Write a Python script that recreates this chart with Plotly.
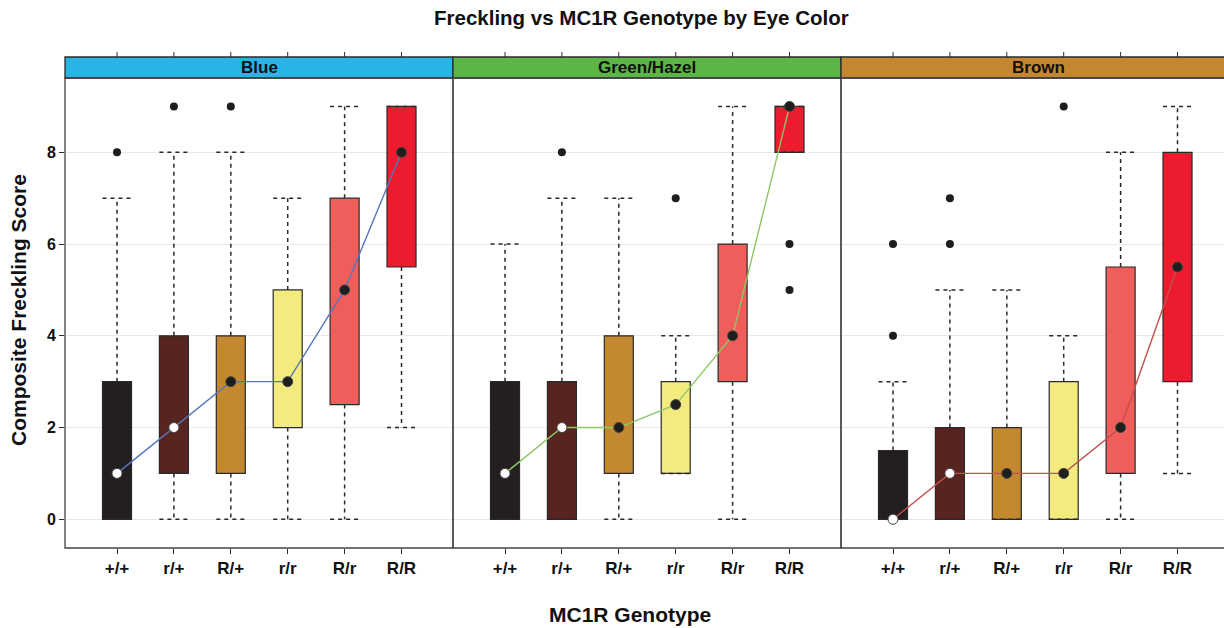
import plotly.graph_objects as go

# ---------------- data ----------------
genotypes = ["+/+", "r/+", "R/+", "r/r", "R/r", "R/R"]
eye_colors = ["Blue", "Green/Hazel", "Brown"]

strip_colors = ["#29b4e6", "#5cb646", "#c4872f"]
line_colors = ["#5677bd", "#8dc863", "#c2514d"]
box_colors = ["#231f20", "#57241f", "#c4892f", "#f4eb7f", "#f05e5c", "#ec1c2e"]
median_dot_colors = ["#ffffff", "#ffffff", "#1e1e1e", "#1e1e1e", "#1e1e1e", "#1e1e1e"]

blue_q1 = [0, 1, 1, 2, 2.5, 5.5]
blue_median = [1, 2, 3, 3, 5, 8]
blue_q3 = [3, 4, 4, 5, 7, 9]
blue_low = [0, 0, 0, 0, 0, 2]
blue_high = [7, 8, 8, 7, 9, 9]
blue_outliers = [[8], [9], [9], [], [], []]

green_q1 = [0, 0, 1, 1, 3, 8]
green_median = [1, 2, 2, 2.5, 4, 9]
green_q3 = [3, 3, 4, 3, 6, 9]
green_low = [0, 0, 0, 1, 0, 8]
green_high = [6, 7, 7, 4, 9, 9]
green_outliers = [[], [8], [], [7], [], [6, 5]]

brown_q1 = [0, 0, 0, 0, 1, 3]
brown_median = [0, 1, 1, 1, 2, 5.5]
brown_q3 = [1.5, 2, 2, 3, 5.5, 8]
brown_low = [0, 0, 0, 0, 0, 1]
brown_high = [3, 5, 5, 4, 8, 9]
brown_outliers = [[4, 6], [6, 7], [], [9], [], []]

panels = [
    (blue_q1, blue_median, blue_q3, blue_low, blue_high, blue_outliers),
    (green_q1, green_median, green_q3, green_low, green_high, green_outliers),
    (brown_q1, brown_median, brown_q3, brown_low, brown_high, brown_outliers),
]

# ---------------- layout geometry ----------------
W, H = 1224, 628
ML, MR, MT, MB = 65, 0, 57, 80
plot_w = W - ML - MR
plot_h = H - MT - MB
ydom_top = 470 / plot_h
panel_px = 388
domains = [[0, panel_px / plot_w], [panel_px / plot_w, 2 * panel_px / plot_w], [2 * panel_px / plot_w, 1]]
px_per_unit = 56.9
x_lo = 0.086
x_ranges = [[x_lo, x_lo + panel_px / px_per_unit],
            [x_lo, x_lo + panel_px / px_per_unit],
            [x_lo, x_lo + (plot_w - 2 * panel_px) / px_per_unit]]
positions = list(range(1, len(genotypes) + 1))
half_w = 0.255
FONT = "Liberation Sans, Arial, Helvetica, sans-serif"
DARK = "#2a2a2a"

fig = go.Figure()

for p, (q1, med, q3, lo, hi, outs) in enumerate(panels):
    xa = "x" if p == 0 else f"x{p + 1}"
    # whiskers (dashed)
    wx, wy = [], []
    for i, xpos in enumerate(positions):
        wx += [xpos, xpos, None, xpos, xpos, None,
               xpos - half_w, xpos + half_w, None, xpos - half_w, xpos + half_w, None]
        wy += [q3[i], hi[i], None, q1[i], lo[i], None,
               hi[i], hi[i], None, lo[i], lo[i], None]
    fig.add_trace(go.Scatter(x=wx, y=wy, mode="lines", xaxis=xa, yaxis="y",
                             line=dict(color=DARK, width=1.5, dash="4px,4px"),
                             hoverinfo="skip", showlegend=False))
    # boxes
    fig.add_trace(go.Bar(x=positions, y=[q3[i] - q1[i] for i in range(len(positions))],
                         base=q1, width=2 * half_w, xaxis=xa, yaxis="y",
                         marker=dict(color=box_colors, line=dict(color=DARK, width=1.2)),
                         showlegend=False))
    # median line
    fig.add_trace(go.Scatter(x=positions, y=med, mode="lines", xaxis=xa, yaxis="y",
                             line=dict(color=line_colors[p], width=1.4),
                             hoverinfo="skip", showlegend=False))
    # median dots
    fig.add_trace(go.Scatter(x=positions, y=med, mode="markers", xaxis=xa, yaxis="y",
                             marker=dict(size=10, color=median_dot_colors,
                                         line=dict(color="#444444", width=1)),
                             showlegend=False))
    # outliers
    ox, oy = [], []
    for i, xpos in enumerate(positions):
        for v in outs[i]:
            ox.append(xpos)
            oy.append(v)
    fig.add_trace(go.Scatter(x=ox, y=oy, mode="markers", xaxis=xa, yaxis="y",
                             marker=dict(size=8, color="#1e1e1e"),
                             showlegend=False))

shapes = []
annotations = []
for p in range(3):
    xref_dom = "x domain" if p == 0 else f"x{p + 1} domain"
    xref_data = "x" if p == 0 else f"x{p + 1}"
    x1 = 1 if p < 2 else 1.03  # last panel runs past the right edge of the picture
    # strip
    shapes.append(dict(type="rect", xref=xref_dom, yref="paper", x0=0, x1=x1,
                       y0=ydom_top, y1=1, fillcolor=strip_colors[p],
                       line=dict(color=DARK, width=1.3), layer="above"))
    # panel frame
    shapes.append(dict(type="rect", xref=xref_dom, yref="paper", x0=0, x1=x1,
                       y0=0, y1=ydom_top, line=dict(color="#444444", width=1.3), layer="above"))
    # top ticks above the strip
    for xpos in positions:
        shapes.append(dict(type="line", xref=xref_data, yref="paper", x0=xpos, x1=xpos,
                           y0=1, y1=1 + 5 / plot_h, line=dict(color=DARK, width=1)))
    annotations.append(dict(text=f"<b>{eye_colors[p]}</b>", xref=xref_dom, yref="paper",
                            x=0.5 if p < 2 else 0.515, y=(ydom_top + 1) / 2, showarrow=False,
                            font=dict(family=FONT, size=17, color="#111111"),
                            xanchor="center", yanchor="middle"))

annotations.append(dict(text="<b>Freckling vs MC1R Genotype by Eye Color</b>", xref="paper", yref="paper",
                        x=(641 - ML) / plot_w, y=(MT + plot_h - 18) / plot_h, showarrow=False,
                        font=dict(family=FONT, size=20.5, color="#111111"),
                        xanchor="center", yanchor="middle"))
annotations.append(dict(text="<b>MC1R Genotype</b>", xref="paper", yref="paper",
                        x=(630 - ML) / plot_w, y=(MT + plot_h - 614) / plot_h, showarrow=False,
                        font=dict(family=FONT, size=21, color="#111111"),
                        xanchor="center", yanchor="middle"))
annotations.append(dict(text="<b>Composite Freckling Score</b>", xref="paper", yref="paper",
                        x=(18 - ML) / plot_w, y=(MT + plot_h - 310) / plot_h, showarrow=False,
                        textangle=-90,
                        font=dict(family=FONT, size=21, color="#111111"),
                        xanchor="center", yanchor="middle"))

layout = dict(
    width=W, height=H,
    margin=dict(l=ML, r=MR, t=MT, b=MB),
    paper_bgcolor="white", plot_bgcolor="white",
    barmode="overlay", showlegend=False,
    shapes=shapes, annotations=annotations,
    yaxis=dict(domain=[0, ydom_top], range=[-0.626, 9.62], tickvals=[0, 2, 4, 6, 8],
               showgrid=True, gridcolor="#e9e9e9", gridwidth=1, zeroline=False,
               ticks="outside", ticklen=5, tickcolor=DARK, showline=False,
               tickfont=dict(family=FONT, size=16, color="#111111", weight="bold")),
)
for p in range(3):
    key = "xaxis" if p == 0 else f"xaxis{p + 1}"
    layout[key] = dict(domain=domains[p], range=x_ranges[p], anchor="y",
                       tickvals=positions, ticktext=genotypes,
                       showgrid=False, zeroline=False, showline=False,
                       ticks="outside", ticklen=5, tickcolor=DARK,
                       tickfont=dict(family=FONT, size=17, color="#111111", weight="bold"))
fig.update_layout(**layout)

fig.write_html("out.html", config={"displayModeBar": False},
               post_script="document.body.style.margin='0';document.body.style.overflow='hidden';")
